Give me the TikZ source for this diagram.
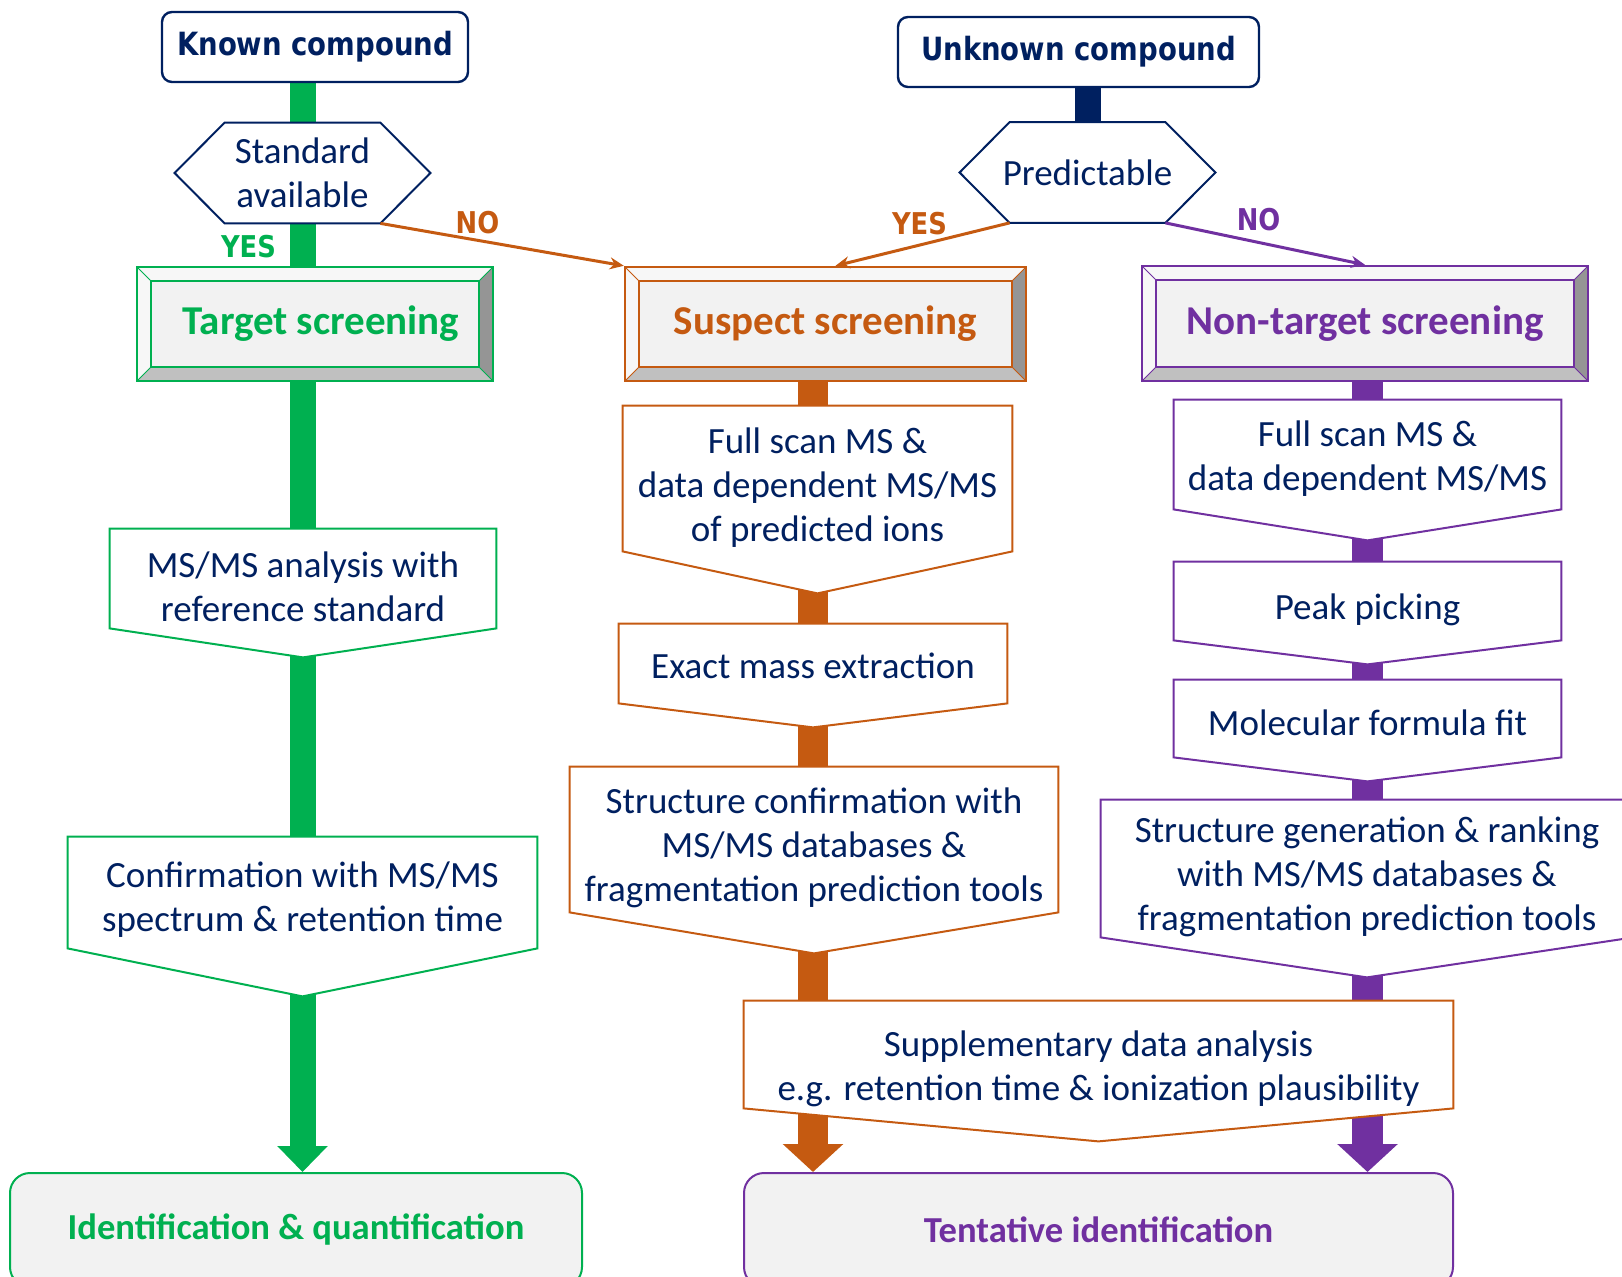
\documentclass[tikz,border=0pt]{standalone}
\usepackage{fontspec}
\setmainfont{Carlito}
\newfontfamily\headfont[FakeStretch=0.86]{DejaVu Sans}
\usetikzlibrary{arrows.meta}

\definecolor{navy}{HTML}{002060}
\definecolor{tgreen}{HTML}{00B050}
\definecolor{sorange}{HTML}{C55A11}
\definecolor{npurple}{HTML}{7030A0}
\definecolor{face}{HTML}{F2F2F2}
\definecolor{bevlight}{HTML}{F7F7F7}
\definecolor{bevmid}{HTML}{C0C0C0}
\definecolor{bevdark}{HTML}{959595}

\pgfdeclarelayer{background}
\pgfsetlayers{background,main}

\newcommand{\topgap}[1]{\rule{0pt}{#1}}
% box with a pointed bottom: node, colour, depth of the point
\newcommand{\chevbox}[3]{%
  \begin{pgfonlayer}{background}
    \fill[white] (#1.north west) -- (#1.north east) -- (#1.south east) -- ([yshift=-#3]#1.south) -- (#1.south west) -- cycle;
  \end{pgfonlayer}
  \draw[#2,line width=1pt] (#1.north west) -- (#1.north east) -- (#1.south east) -- ([yshift=-#3]#1.south) -- (#1.south west) -- cycle;}
% six sided decision box
\newcommand{\hexoutline}[1]{%
  \begin{pgfonlayer}{background}
    \fill[white] (#1.north west) -- (#1.north east) -- ([xshift=25pt]#1.east) -- (#1.south east) -- (#1.south west) -- ([xshift=-25pt]#1.west) -- cycle;
  \end{pgfonlayer}
  \draw[navy,line width=1pt] (#1.north west) -- (#1.north east) -- ([xshift=25pt]#1.east) -- (#1.south east) -- (#1.south west) -- ([xshift=-25pt]#1.west) -- cycle;}

\begin{document}
\begin{tikzpicture}[x=0.5pt,y=-0.5pt,
	every node/.style={inner sep=0pt},
	body/.style={text=navy,font=\fontsize{18.5}{22}\selectfont,align=center},
	start/.style={draw=navy,line width=1.2pt,rounded corners=5pt,fill=white,text=navy,
		font=\headfont\bfseries\fontsize{16}{18}\selectfont,minimum height=35pt},
	decide/.style={body,minimum width=77.5pt,minimum height=50pt},
	proc/.style={body},
	bevel/.style={draw=#1,line width=1.2pt,fill=face,text=#1,
		font=\bfseries\fontsize{20.5}{24}\selectfont,minimum height=57pt,
		path picture={
			\path (path picture bounding box.north west) coordinate (bnw)
			      (path picture bounding box.north east) coordinate (bne)
			      (path picture bounding box.south east) coordinate (bse)
			      (path picture bounding box.south west) coordinate (bsw);
			\fill[bevlight] (bsw) -- (bnw) -- (bne) -- ([shift={(-7pt,-7pt)}]bne) -- ([shift={(7pt,-7pt)}]bnw) -- ([shift={(7pt,7pt)}]bsw) -- cycle;
			\fill[bevmid] (bsw) -- (bse) -- ([shift={(-7pt,7pt)}]bse) -- ([shift={(7pt,7pt)}]bsw) -- cycle;
			\fill[bevdark] (bse) -- (bne) -- ([shift={(-7pt,-7pt)}]bne) -- ([shift={(-7pt,7pt)}]bse) -- cycle;
			\draw[#1,line width=0.6pt] ([shift={(7pt,-7pt)}]bnw) rectangle ([shift={(-7pt,7pt)}]bse);
			\draw[#1,line width=0.4pt] (bnw) -- ++(7pt,-7pt) (bne) -- ++(-7pt,-7pt) (bse) -- ++(-7pt,7pt) (bsw) -- ++(7pt,7pt);
		}},
	result/.style={draw=#1,line width=1pt,rounded corners=10pt,fill=face,text=#1,
		font=\bfseries\fontsize{18.3}{22}\selectfont,minimum height=57pt},
	bar/.style={draw=#1,line width=13pt},
	choice/.style={draw=#1,line width=1.5pt,-{Stealth[length=7pt,width=6pt]}},
	answer/.style={text=#1,font=\headfont\bfseries\fontsize{15}{17}\selectfont}]

	\useasboundingbox (0,0) rectangle (1622,1277);

	\node[start] (known) at (315,47) [minimum width=153pt] {Known compound};
	\node[start] (unknown) at (1078.5,52) [minimum width=180.5pt] {Unknown compound};
	\node[decide] (std) at (302.5,173) {Standard\\available};
	\node[decide] (pred) at (1087.5,172.5) {\makebox[0pt]{Predictable}};

	\node[bevel=tgreen] (target) at (315,324) [minimum width=178pt] {\hspace{6pt}Target screening};
	\node[bevel=sorange] (suspect) at (825.5,324) [minimum width=200.5pt] {Suspect screening};
	\node[bevel=npurple] (nontarget) at (1365,323.5) [minimum width=223pt,minimum height=57.5pt] {Non-target screening};

	% target column
	\node[proc] (msms) at (303,578.5) [minimum width=193pt,minimum height=49.5pt] {\topgap{21.5pt}MS/MS analysis with\\reference standard};
	\node[proc] (confirm) at (302.5,892.5) [minimum width=234.5pt,minimum height=55.5pt] {\topgap{20.25pt}Confirmation with MS/MS\\spectrum \& retention time};

	% suspect column
	\node[proc] (fso) at (817.5,478.5) [minimum width=194.5pt,minimum height=72.5pt] {\topgap{22.25pt}Full scan MS \&\\data dependent MS/MS\\of predicted ions};
	\node[proc] (exact) at (813,663.5) [minimum width=194pt,minimum height=39.5pt] {\topgap{15.5pt}Exact mass extraction};
	\node[proc] (sconf) at (814,839.5) [minimum width=244pt,minimum height=72.5pt] {\topgap{21.25pt}Structure confirmation with\\MS/MS databases \&\\fragmentation prediction tools};

	% non-target column
	\node[proc] (fsp) at (1367.5,454.5) [minimum width=193.5pt,minimum height=54.5pt] {\topgap{16.75pt}Full scan MS \&\\data dependent MS/MS};
	\node[proc] (peak) at (1367.5,601) [minimum width=193.5pt,minimum height=39pt] {\topgap{21.75pt}Peak picking};
	\node[proc] (formula) at (1367.5,718.5) [minimum width=193.5pt,minimum height=38.5pt] {\topgap{17.5pt}Molecular formula fit};
	\node[proc] (sgen) at (1367,868.5) [minimum width=266pt,minimum height=68.5pt] {\topgap{21pt}Structure generation \& ranking\\with MS/MS databases \&\\fragmentation prediction tools};

	\node[proc] (supp) at (1098.5,1054.5) [minimum width=354.5pt,minimum height=53.5pt] {\topgap{27pt}Supplementary data analysis\\e.g. retention time \& ionization plausibility};

	\node[result=tgreen] (ident) at (296,1230) [minimum width=286pt] {Identification \& quantification};
	\node[result=npurple] (tent) at (1098.5,1230) [minimum width=354.5pt] {Tentative identification};

	\begin{pgfonlayer}{background}
		\draw[bar=tgreen] (std |- known) -- (confirm);
		\draw[bar=tgreen,-{Triangle[length=13pt,width=24.5pt]}] (confirm) -- (confirm |- ident.north);
		\draw[bar=navy] (pred |- unknown) -- (pred);
		\draw[bar=sorange,line width=15pt,-{Triangle[length=14pt,width=29.5pt]}] (exact |- suspect) -- (exact |- tent.north);
		\draw[bar=npurple,line width=15.5pt,-{Triangle[length=14pt,width=29.5pt]}] (fsp |- nontarget) -- (fsp |- tent.north);
	\end{pgfonlayer}

	\chevbox{msms}{tgreen}{14.5pt}
	\chevbox{confirm}{tgreen}{24pt}
	\chevbox{fso}{sorange}{21pt}
	\chevbox{exact}{sorange}{12pt}
	\chevbox{sconf}{sorange}{20.5pt}
	\chevbox{fsp}{npurple}{15.5pt}
	\chevbox{peak}{npurple}{12pt}
	\chevbox{formula}{npurple}{12pt}
	\chevbox{sgen}{npurple}{20pt}
	\chevbox{supp}{sorange}{16.5pt}
	\hexoutline{std}
	\hexoutline{pred}

	\draw[choice=sorange] (std.south east) -- (suspect.north west);
	\draw[choice=sorange] (pred.south west) -- ([xshift=5pt]suspect.north);
	\draw[choice=npurple] (pred.south east) -- (nontarget.north);

	\node[answer=tgreen] (yesstd) at (248.5,246.5) {YES};
	\node[answer=sorange] (nostd) at (477.5,223) {NO};
	\node[answer=sorange] (yespred) at (919.5,224) {YES};
	\node[answer=npurple] (nopred) at (1258.5,220) {NO};
\end{tikzpicture}
\end{document}
